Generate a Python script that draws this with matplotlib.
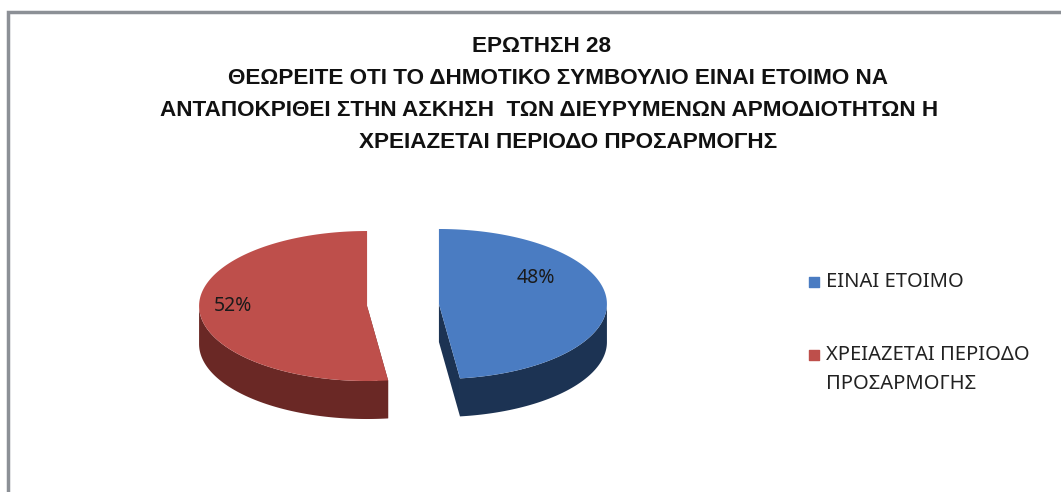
import numpy as np
import matplotlib
matplotlib.use("Agg")
import matplotlib.pyplot as plt
from matplotlib.patches import Polygon

plt.rcParams['font.family'] = ['Noto Sans', 'DejaVu Sans']

# data
title_lines = [
    "ΕΡΩΤΗΣΗ 28",
    "ΘΕΩΡΕΙΤΕ ΟΤΙ ΤΟ ΔΗΜΟΤΙΚΟ ΣΥΜΒΟΥΛΙΟ ΕΙΝΑΙ ΕΤΟΙΜΟ ΝΑ",
    "ΑΝΤΑΠΟΚΡΙΘΕΙ ΣΤΗΝ ΑΣΚΗΣΗ  ΤΩΝ ΔΙΕΥΡΥΜΕΝΩΝ ΑΡΜΟΔΙΟΤΗΤΩΝ Η",
    "ΧΡΕΙΑΖΕΤΑΙ ΠΕΡΙΟΔΟ ΠΡΟΣΑΡΜΟΓΗΣ",
]
categories = ["ΕΙΝΑΙ ΕΤΟΙΜΟ", "ΧΡΕΙΑΖΕΤΑΙ ΠΕΡΙΟΔΟ\nΠΡΟΣΑΡΜΟΓΗΣ"]
values = [48, 52]
top_colors = ["#4A7CC2", "#BE4F4B"]
side_colors = ["#1C3353", "#6A2825"]

fig = plt.figure(figsize=(10.61, 4.92), dpi=100)
ax = fig.add_axes([0, 0, 1, 1])
ax.set_xlim(0, 1061)
ax.set_ylim(492, 0)
ax.axis("off")

# frame (only top and left visible in the reference)
ax.plot([8, 8, 1061], [492, 12, 12], color="#8C9096", lw=2.5, solid_joinstyle="miter")

# 3d pie geometry (pixel units)
cx, cy = 403, 305
rx, ry = 168, 75
depth = 38
explode = 36


def arc(c, a1, a2, n=120):
    t = np.radians(np.linspace(a1, a2, n))
    return np.column_stack([c[0] + rx * np.cos(t), c[1] - ry * np.sin(t)])


start = 90.0
slices = []
for v, tc, sc in zip(values, top_colors, side_colors):
    sweep = 360.0 * v / sum(values)
    a1, a2 = start - sweep, start  # clockwise from top
    mid = np.radians((a1 + a2) / 2)
    c = (cx + explode * np.cos(mid), cy - explode * np.sin(mid) * ry / rx)
    slices.append((a1, a2, c, tc, sc, v))
    start -= sweep

# side walls first
for a1, a2, c, tc, sc, v in slices:
    # radial cut faces
    for a in (a1, a2):
        p = arc(c, a, a, 1)[0]
        face = [c, p, (p[0], p[1] + depth), (c[0], c[1] + depth)]
        ax.add_patch(Polygon(face, closed=True, fc=sc, ec="none", zorder=2))
    # outer wall on the front half (angles between 180 and 360)
    lo, hi = a1 % 360, a1 % 360 + (a2 - a1)
    for k in (-360, 0, 360):
        s1, s2 = max(lo + k, 180), min(hi + k, 360)
        if s2 > s1:
            top = arc(c, s1, s2)
            bot = top[::-1] + [0, depth]
            ax.add_patch(Polygon(np.vstack([top, bot]), closed=True, fc=sc, ec="none", zorder=3))

# top faces
for a1, a2, c, tc, sc, v in slices:
    pts = np.vstack([[c], arc(c, a1, a2)])
    ax.add_patch(Polygon(pts, closed=True, fc=tc, ec="none", zorder=4))

# percentage labels (angle, radius fraction on the top face)
label_at = [(31, 0.67), (180, 0.80)]
for (a1, a2, c, tc, sc, v), (ang, fr) in zip(slices, label_at):
    t = np.radians(ang)
    ax.text(c[0] + fr * rx * np.cos(t), c[1] - fr * ry * np.sin(t),
            f"{v}%", fontsize=14, color="#1a1a1a", ha="center", va="center", zorder=5)

# title
title_x = [542, 558, 549, 568]
for i, line in enumerate(title_lines):
    ax.text(title_x[i], 47 + i * 32, line, fontsize=16.2, fontweight="bold",
            family=["Liberation Sans Narrow", "Liberation Sans", "DejaVu Sans"],
            color="#111111", ha="center", va="center")

# legend
leg_y = [282, 355]
for cat, col, y in zip(categories, top_colors, leg_y):
    ax.scatter([814], [y], marker="s", s=55, color=col, zorder=5)
    for j, part in enumerate(cat.split("\n")):
        ax.text(826, y + j * 29, part, fontsize=14.5, color="#222222",
                ha="left", va="center")

fig.savefig("out.png", dpi=100, facecolor="white")
